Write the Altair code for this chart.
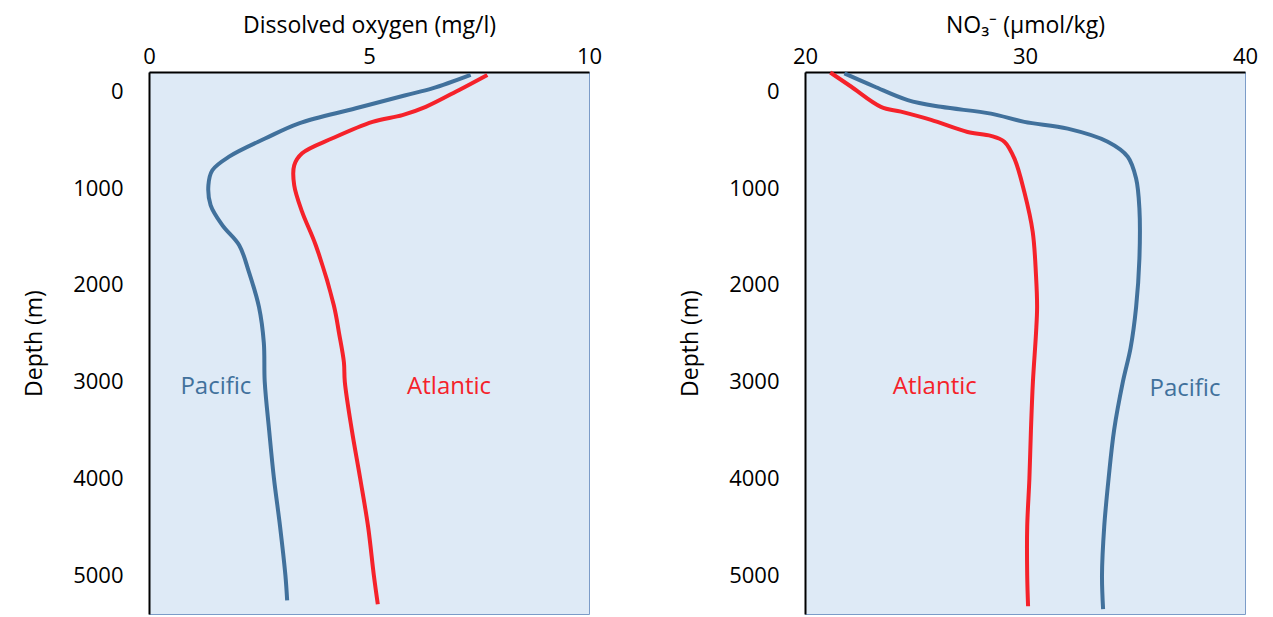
import altair as alt
import pandas as pd

# Dissolved oxygen (mg/l) vs depth (m)
do_pac_depth = [-170, -30, 40, 175, 330, 485, 675, 815, 970, 1175, 1385, 1590, 1865, 2230, 2600, 3000, 3500, 4000, 4500, 5000, 5260]
do_pac_value = [7.31, 6.44, 5.83, 4.70, 3.41, 2.65, 1.82, 1.44, 1.35, 1.40, 1.67, 2.05, 2.27, 2.50, 2.61, 2.63, 2.73, 2.84, 2.98, 3.10, 3.14]
do_atl_depth = [-170, -15, 160, 245, 315, 485, 640, 765, 970, 1245, 1590, 2210, 2500, 2800, 3000, 3500, 4000, 4500, 5000, 5300]
do_atl_value = [7.69, 7.05, 6.29, 5.76, 5.08, 4.17, 3.48, 3.30, 3.30, 3.48, 3.79, 4.20, 4.32, 4.43, 4.45, 4.61, 4.80, 4.98, 5.11, 5.20]

# Nitrate (umol/kg) vs depth (m)
no3_pac_depth = [-185, -50, 90, 160, 230, 315, 385, 520, 675, 900, 1210, 1730, 2230, 2650, 3000, 3500, 4000, 4500, 5000, 5350]
no3_pac_value = [21.79, 23.15, 24.67, 26.18, 28.45, 29.97, 31.94, 33.76, 34.67, 35.05, 35.20, 35.20, 35.05, 34.80, 34.45, 34.05, 33.80, 33.60, 33.50, 33.55]
no3_atl_depth = [-195, -50, 160, 210, 295, 420, 460, 520, 695, 1040, 1450, 1900, 2230, 2500, 3000, 3500, 4000, 4500, 5000, 5320]
no3_atl_value = [21.15, 22.09, 23.45, 24.36, 25.73, 27.39, 28.45, 29.06, 29.52, 29.97, 30.35, 30.50, 30.55, 30.50, 30.36, 30.27, 30.20, 30.10, 30.10, 30.14]

oceans = ["Pacific", "Atlantic"]
do_label_value = [1.52, 6.82]
do_label_depth = [3054, 3054]
no3_label_value = [37.27, 25.9]
no3_label_depth = [3075, 3054]

BLUE = "#41719C"
RED = "#F5222A"
FONT = "Open Sans"


def series(depths, values, ocean):
    return pd.DataFrame({"depth": depths, "value": values, "ocean": ocean, "idx": range(len(depths))})


do_df = pd.concat([series(do_pac_depth, do_pac_value, "Pacific"), series(do_atl_depth, do_atl_value, "Atlantic")])
no3_df = pd.concat([series(no3_pac_depth, no3_pac_value, "Pacific"), series(no3_atl_depth, no3_atl_value, "Atlantic")])
do_lab = pd.DataFrame({"ocean": oceans, "value": do_label_value, "depth": do_label_depth})
no3_lab = pd.DataFrame({"ocean": oceans, "value": no3_label_value, "depth": no3_label_depth})

line_color = alt.Color("ocean:N", scale=alt.Scale(domain=["Pacific", "Atlantic"], range=[BLUE, RED]), legend=None)
text_color = alt.Color("ocean:N", scale=alt.Scale(domain=["Pacific", "Atlantic"], range=["#44628A", "#FF2020"]), legend=None)


def panel(df, lab, xtitle, xdomain, xticks):
    x = alt.X("value:Q", scale=alt.Scale(domain=xdomain, nice=False, zero=False),
              axis=alt.Axis(orient="top", values=xticks, title=xtitle, titlePadding=8, labelPadding=4,
                            labelFlush=False, format="d"))
    y = alt.Y("depth:Q", scale=alt.Scale(domain=[-200, 5400], reverse=True, nice=False, zero=False),
              axis=alt.Axis(values=[0, 1000, 2000, 3000, 4000, 5000], title="Depth (m)", format="d",
                            labelPadding=26, titlePadding=26))
    lines = alt.Chart(df).mark_line(strokeWidth=4, interpolate="catmull-rom").encode(
        x=x, y=y, color=line_color, order="idx:Q")
    texts = alt.Chart(lab).mark_text(fontSize=24, font=FONT).encode(
        x="value:Q", y="depth:Q", text="ocean:N", color=text_color)
    return alt.layer(lines, texts).properties(width=440, height=542)


left = panel(do_df, lab=do_lab, xtitle="Dissolved oxygen (mg/l)", xdomain=[0, 10], xticks=[0, 5, 10])
right = panel(no3_df, lab=no3_lab, xtitle="NO\u2083\u207b (\u00b5mol/kg)", xdomain=[20, 40], xticks=[20, 30, 40])

chart = alt.hconcat(left, right, spacing=76).properties(
    padding={"left": 15, "top": 5, "right": 5, "bottom": 0}
).configure_view(
    fill="#DEEAF6", stroke="#7C9CC8", strokeWidth=1
).configure_axis(
    domainColor="black", domainWidth=2, ticks=False, grid=False,
    labelFont=FONT, labelFontSize=22, labelColor="black",
    titleFont=FONT, titleFontSize=23, titleFontWeight="normal", titleColor="black",
    zindex=1
)

chart.save("out.html", embed_options={"renderer": "svg", "actions": False})
